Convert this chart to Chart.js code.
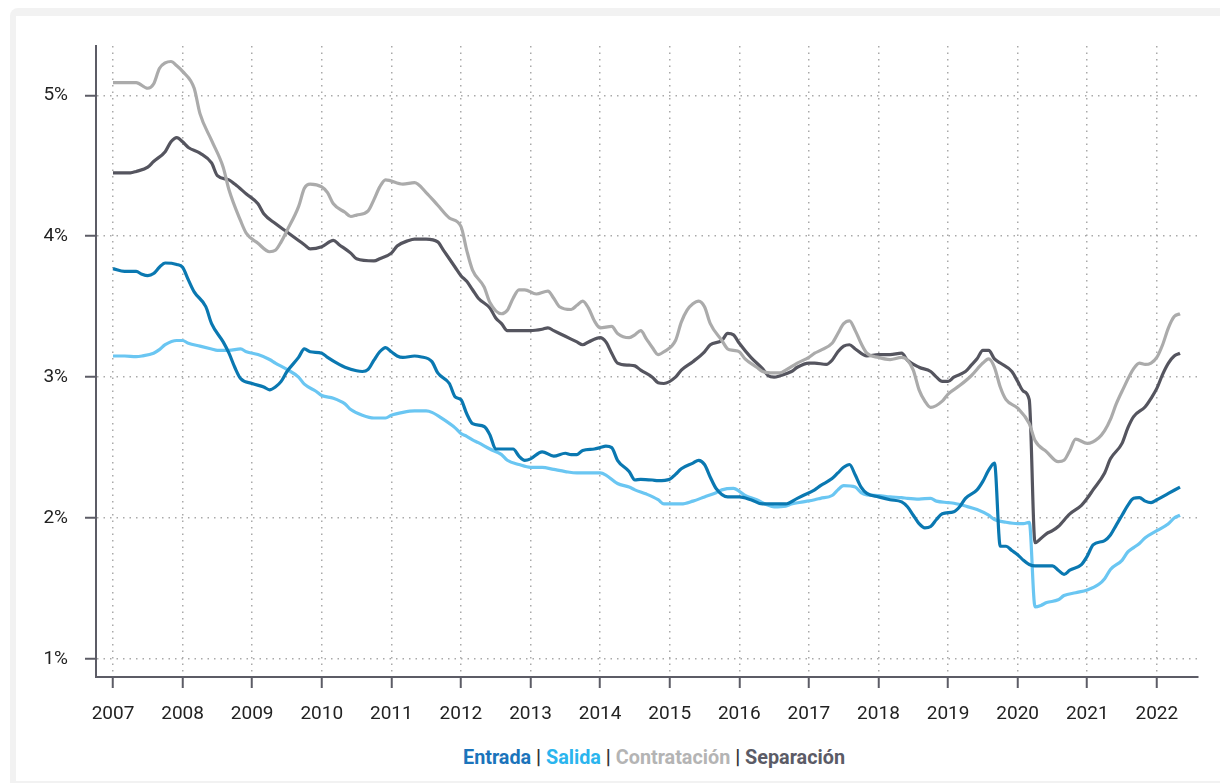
<!DOCTYPE html>
<html>
<head>
<meta charset="utf-8">
<script src="https://cdn.jsdelivr.net/npm/chart.js@4"></script>
<style>
body{margin:0;background:#fff;font-family:Roboto,sans-serif;}
#frame{position:absolute;left:10px;top:8px;width:1240px;height:800px;background:#f2f2f2;border-radius:8px;}
#card{position:absolute;left:16px;top:16px;width:1230px;height:765px;background:#fff;}
#chart{position:absolute;left:0;top:0;}
#legend{position:absolute;left:354px;top:746px;width:600px;text-align:center;font:bold 19.8px Roboto,sans-serif;color:#333;}
</style>
</head>
<body>
<div id="frame"></div>
<div id="card"></div>
<canvas id="chart" width="1220" height="740"></canvas>
<div id="legend">
<span style="color:#1b74bb">Entrada</span> | <span style="color:#2bb5ee">Salida</span> | <span style="color:#b4b4b4">Contratación</span> | <span style="color:#5b5b66">Separación</span>
</div>

<script>

// DATA (months counted from January 2007, values in %)
const yearLabels =
['2007','2008','2009','2010','2011','2012','2013','2014',
 '2015','2016','2017','2018','2019','2020','2021','2022'];

const yTicks = [1, 2, 3, 4, 5];

const entradaMonths =
[0,2,4,5,6,7,8,9,11,12,13,14,16,17,19,20,21,22,24,26,27,28,29,30,32,33,34,36,37,39,40,42,43,44,45,46,47,48,49,50,52,53,55,56,58,59,60,61,62,64,65,66,68,69,70,71,72,74,76,78,79,80,81,83,84,85,86,87,89,90,91,93,94,96,97,98,100,101,102,103,104,106,107,108,110,112,113,115,116,118,119,121,122,124,125,126,127,128,129,130,132,134,136,137,138,139,140,141,142,143,145,146,147,149,150,151,152,153,154,155,156,157,158,159,160,162,163,164,165,167,168,169,171,172,173,174,175,176,177,178,179,180,182,184];
const entradaValues =
[3.77,3.75,3.75,3.73,3.72,3.735,3.78,3.81,3.80,3.78,3.69,3.605,3.50,3.38,3.25,3.17,3.07,2.99,2.955,2.93,2.91,2.93,2.97,3.04,3.14,3.20,3.18,3.17,3.14,3.09,3.07,3.045,3.04,3.055,3.12,3.18,3.21,3.18,3.15,3.14,3.15,3.145,3.11,3.03,2.955,2.86,2.84,2.74,2.67,2.65,2.59,2.49,2.49,2.49,2.44,2.41,2.42,2.47,2.44,2.46,2.45,2.45,2.48,2.49,2.50,2.51,2.50,2.41,2.33,2.27,2.275,2.27,2.265,2.275,2.31,2.35,2.39,2.41,2.38,2.29,2.21,2.15,2.15,2.15,2.13,2.10,2.10,2.10,2.10,2.14,2.16,2.20,2.23,2.28,2.32,2.36,2.38,2.305,2.22,2.175,2.15,2.13,2.115,2.08,2.02,1.96,1.93,1.94,1.99,2.03,2.045,2.08,2.14,2.20,2.26,2.34,2.39,1.80,1.80,1.77,1.74,1.70,1.67,1.66,1.66,1.66,1.63,1.60,1.63,1.67,1.73,1.81,1.84,1.88,1.95,2.02,2.09,2.14,2.145,2.12,2.11,2.13,2.175,2.22];

const salidaMonths =
[0,2,4,5,7,8,9,11,12,13,15,17,18,20,22,23,25,27,28,30,32,33,35,36,38,40,41,43,45,47,48,50,52,54,55,57,59,60,61,62,63,65,67,68,70,72,74,76,78,80,82,84,85,87,89,90,92,94,95,97,98,100,102,104,105,107,108,109,111,113,114,116,117,119,121,122,124,125,126,128,129,130,132,134,136,137,139,141,142,144,145,147,149,151,152,154,156,157,158,159,160,161,163,164,166,168,170,171,172,174,175,176,177,178,180,182,183,184];
const salidaValues =
[3.15,3.15,3.145,3.15,3.17,3.195,3.23,3.26,3.26,3.24,3.22,3.20,3.19,3.19,3.20,3.18,3.16,3.125,3.10,3.055,3.00,2.95,2.90,2.87,2.85,2.81,2.77,2.73,2.71,2.71,2.73,2.75,2.76,2.76,2.75,2.70,2.64,2.60,2.58,2.555,2.535,2.49,2.45,2.41,2.38,2.36,2.36,2.345,2.33,2.32,2.32,2.32,2.305,2.245,2.22,2.20,2.17,2.13,2.10,2.10,2.10,2.12,2.15,2.18,2.20,2.21,2.19,2.16,2.13,2.09,2.08,2.085,2.10,2.115,2.13,2.14,2.16,2.20,2.23,2.22,2.18,2.165,2.16,2.15,2.145,2.14,2.135,2.14,2.12,2.11,2.105,2.085,2.06,2.02,1.99,1.97,1.96,1.96,1.97,1.37,1.38,1.40,1.42,1.45,1.47,1.49,1.53,1.57,1.635,1.70,1.76,1.79,1.82,1.86,1.91,1.96,2.00,2.02];

const contratacionMonths =
[0,2,4,6,7,8,9,10,11,12,14,15,17,19,20,22,23,25,27,28,29,30,32,33,34,36,37,38,40,41,42,44,45,46,47,50,52,54,56,58,60,61,62,64,65,67,68,69,70,71,73,75,76,77,79,80,81,82,83,84,86,87,89,90,91,92,93,94,95,97,98,99,100,101,102,103,105,106,107,108,109,111,112,114,115,116,118,120,121,122,124,125,126,127,128,129,130,132,134,136,137,138,139,140,141,143,144,146,148,150,151,152,153,154,156,158,159,161,163,164,165,166,168,170,171,172,173,174,176,177,178,179,180,181,182,183,184];
const contratacionValues =
[5.09,5.09,5.09,5.05,5.08,5.19,5.23,5.24,5.21,5.17,5.05,4.87,4.68,4.49,4.33,4.11,4.02,3.95,3.89,3.90,3.96,4.04,4.21,4.34,4.37,4.35,4.31,4.23,4.17,4.14,4.15,4.18,4.26,4.35,4.40,4.37,4.38,4.31,4.22,4.13,4.07,3.90,3.76,3.64,3.53,3.45,3.475,3.56,3.62,3.62,3.59,3.61,3.56,3.50,3.48,3.51,3.54,3.49,3.40,3.35,3.36,3.31,3.28,3.30,3.33,3.27,3.21,3.16,3.18,3.26,3.39,3.475,3.52,3.54,3.50,3.38,3.26,3.20,3.19,3.18,3.13,3.07,3.04,3.03,3.03,3.05,3.10,3.14,3.17,3.19,3.24,3.31,3.38,3.40,3.33,3.24,3.17,3.14,3.125,3.14,3.12,3.05,2.91,2.83,2.785,2.83,2.88,2.94,3.01,3.10,3.13,3.07,2.93,2.84,2.78,2.67,2.55,2.47,2.40,2.41,2.48,2.56,2.53,2.57,2.62,2.70,2.81,2.90,3.06,3.10,3.09,3.10,3.14,3.23,3.35,3.43,3.45];

const separacionMonths =
[0,3,4,6,7,9,10,11,12,13,15,17,18,20,21,23,25,26,28,30,32,33,34,36,38,39,41,42,45,46,48,49,51,52,54,56,57,59,60,61,62,63,65,66,67,68,70,72,74,75,76,78,80,81,82,84,85,86,87,89,90,91,93,94,95,97,98,100,102,103,105,106,107,108,110,112,113,114,115,117,118,120,121,123,124,125,126,127,128,130,132,134,136,137,139,141,142,143,144,145,147,148,149,150,151,152,153,155,156,157,158,159,160,161,162,163,165,167,168,169,171,172,174,175,176,178,179,180,181,182,183,184];
const separacionValues =
[4.45,4.45,4.46,4.49,4.53,4.60,4.67,4.70,4.67,4.63,4.59,4.52,4.43,4.40,4.37,4.30,4.23,4.16,4.09,4.03,3.97,3.94,3.91,3.925,3.97,3.94,3.88,3.84,3.825,3.84,3.88,3.93,3.97,3.98,3.98,3.96,3.90,3.78,3.72,3.68,3.62,3.56,3.49,3.42,3.38,3.33,3.33,3.33,3.34,3.35,3.33,3.29,3.25,3.23,3.25,3.28,3.25,3.17,3.10,3.085,3.08,3.05,3.00,2.96,2.955,3.00,3.05,3.11,3.18,3.23,3.26,3.31,3.30,3.24,3.14,3.06,3.01,3.00,3.01,3.04,3.07,3.10,3.10,3.09,3.12,3.18,3.22,3.23,3.20,3.15,3.16,3.16,3.17,3.12,3.07,3.04,3.00,2.97,2.97,3.00,3.04,3.085,3.13,3.19,3.19,3.13,3.10,3.04,2.97,2.90,2.84,1.825,1.855,1.89,1.91,1.94,2.03,2.09,2.14,2.20,2.32,2.42,2.53,2.64,2.72,2.79,2.85,2.92,3.02,3.10,3.15,3.17];


// BUILD POINTS
function toPoints(months, values){

    return months.map((m, i) => ({ x: m, y: values[i] }));

}

function line(label, months, values, color){

    return {
        label: label,
        data: toPoints(months, values),
        borderColor: color,
        borderWidth: 3.2,
        pointRadius: 0,
        cubicInterpolationMode: 'monotone',
        fill: false
    };

}


// DRAW CHART
const axisColor = '#5c5c66';

const gridStyle = {
    color: '#a9a9a9',
    lineWidth: 1.5,
    tickLength: 11,
    tickColor: axisColor,
    tickWidth: 2,
    tickBorderDash: []
};

const borderStyle = {
    color: axisColor,
    width: 2,
    dash: [1.5, 5]
};

new Chart(

document.getElementById('chart'),

{

    type: 'line',

    data: {

        datasets: [
            line('Entrada', entradaMonths, entradaValues, '#0a78b1'),
            line('Salida', salidaMonths, salidaValues, '#6ac6f2'),
            line('Contratación', contratacionMonths, contratacionValues, '#ababab'),
            line('Separación', separacionMonths, separacionValues, '#55555f')
        ]

    },

    options: {

        responsive: false,
        animation: false,
        devicePixelRatio: 1,

        layout: {
            padding: { left: 36, top: 46, right: 22, bottom: 0 }
        },

        plugins: {
            legend: { display: false },
            tooltip: { enabled: false }
        },

        scales: {

            x: {
                type: 'linear',
                min: -2.93,
                max: 187.1,
                afterBuildTicks: s => {
                    s.ticks = yearLabels.map((l, i) => ({ value: i * 12 }));
                },
                afterFit: s => { s.height = 63; },
                ticks: {
                    autoSkip: false,
                    maxRotation: 0,
                    padding: 15,
                    color: '#222',
                    font: { family: 'Roboto', size: 19 },
                    callback: (v, i) => yearLabels[i]
                },
                grid: gridStyle,
                border: borderStyle
            },

            y: {
                min: 0.872,
                max: 5.35,
                afterBuildTicks: s => {
                    s.ticks = yTicks.map(v => ({ value: v }));
                },
                afterFit: s => { s.width = 60; },
                ticks: {
                    padding: 17,
                    color: '#222',
                    font: { family: 'Roboto', size: 19 },
                    callback: v => v + '%'
                },
                grid: gridStyle,
                border: borderStyle
            }

        }

    }

});

</script>
</body>
</html>
